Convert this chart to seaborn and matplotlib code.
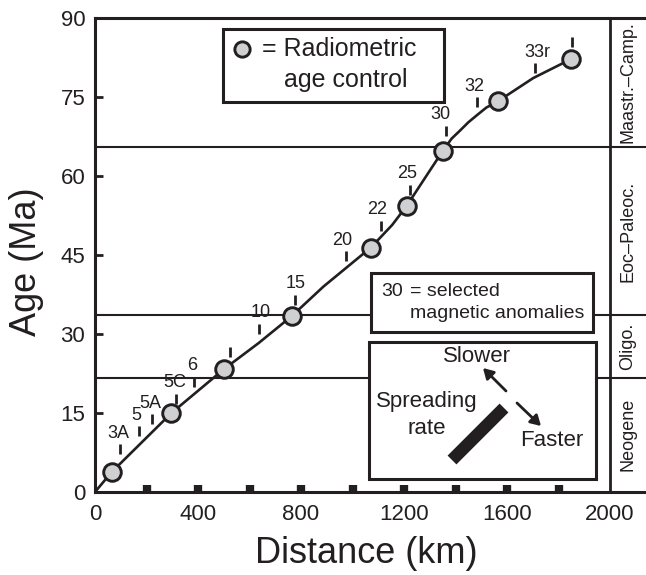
import numpy as np
import pandas as pd
import matplotlib
matplotlib.use("Agg")
import matplotlib.pyplot as plt
import seaborn as sns
from matplotlib.patches import Rectangle, FancyArrowPatch
from matplotlib.ticker import FixedLocator
from matplotlib.lines import Line2D

# ---------------- data ----------------
curve_km = [0, 65, 297, 500, 636, 764, 887, 974, 1071, 1154, 1210, 1351, 1385, 1417, 1450,
            1487, 1520, 1565, 1702, 1849]
curve_ma = [0, 3.8, 15, 23.3, 28.3, 33.4, 39.0, 42.5, 46.4, 50.7, 54.3, 64.8, 67.1, 68.6, 70.2,
            71.7, 73.0, 74.2, 78.6, 82.2]

radio_km = [65, 297, 500, 764, 1071, 1210, 1351, 1565, 1849]
radio_ma = [3.8, 15, 23.3, 33.4, 46.4, 54.3, 64.8, 74.2, 82.2]

anom_names = ["3A", "5", "5A", "5C", "6", "", "10", "15", "20", "22", "25", "30", "32", "33r", ""]
anom_km = [99, 171, 222, 316, 386, 525, 636, 778, 974, 1110, 1222, 1365, 1485, 1707, 1852]
anom_ma = [8.1, 11.5, 13.8, 17.7, 20.9, 26.6, 31.0, 36.5, 44.8, 50.6, 57.4, 68.6, 74.0, 80.5, 85.5]

boundaries_ma = [21.7, 33.6, 65.5]
epoch_names = ["Neogene", "Oligo.", "Eoc\u2013Paleoc.", "Maastr.\u2013Camp."]
epoch_lo = [0, 21.7, 33.6, 65.5]
epoch_hi = [21.7, 33.6, 65.5, 90]

x_ticks = [0, 400, 800, 1200, 1600, 2000]
x_marks = [200, 400, 600, 800, 1000, 1200, 1400, 1600, 1800]
y_ticks = [0, 15, 30, 45, 60, 75, 90]

# label offsets (pixels) for anomaly labels
label_dx = [-2, -3, -2, -2, -2, 0, 2, 0, -4, -4, -3, -6, -3, 3, 0]
label_dy = 16

# ---------------- style ----------------
sns.set_style("ticks")
plt.rcParams['font.family'] = ['Liberation Sans', 'DejaVu Sans']
INK = "#231f20"

W, H = 646, 575
fig = plt.figure(figsize=(W / 100, H / 100), dpi=100)
x0_px, y0_px, ytop_px, xr_px = 95, 492, 18, 646
px_per_km = (610 - 95) / 2000.0
ax = fig.add_axes([x0_px / W, (H - y0_px) / H, (xr_px - x0_px) / W, (y0_px - ytop_px) / H])
ax.set_xlim(0, (xr_px - x0_px) / px_per_km)
ax.set_ylim(0, 90)

def F(px, py):
    return (px / W, 1 - py / H)

# curve
curve_df = pd.DataFrame({"km": curve_km, "ma": curve_ma})
sns.lineplot(data=curve_df, x="km", y="ma", sort=False, color=INK, lw=1.9, ax=ax, zorder=3)

# radiometric points
radio_df = pd.DataFrame({"km": radio_km, "ma": radio_ma})
sns.scatterplot(data=radio_df, x="km", y="ma", s=160, color="#cfd0d2", edgecolor=INK,
                linewidth=2.1, ax=ax, zorder=5, clip_on=False)

# anomaly ticks & labels
am = np.array(anom_ma)
ax.vlines(anom_km, am - 0.95, am + 0.95, color=INK, lw=2.0, zorder=4)
for name, xk, ym, dx in zip(anom_names, anom_km, anom_ma, label_dx):
    if name:
        ax.annotate(name, (xk, ym), xytext=(dx, label_dy), textcoords="offset pixels",
                    ha="center", va="center", fontsize=13, color=INK, zorder=6)

# boundaries and epoch panel
for b in boundaries_ma:
    ax.axhline(b, color=INK, lw=1.5, zorder=1)
ax.axvline(2000, color=INK, lw=2.0, zorder=2)
xe = 2000 + (628 - 610) / px_per_km
for name, lo, hi in zip(epoch_names, epoch_lo, epoch_hi):
    ax.text(xe, (lo + hi) / 2, name, rotation=90, ha="center", va="center",
            fontsize=13, color=INK)

# axes styling
for s in ["left", "bottom", "top"]:
    ax.spines[s].set_linewidth(2.2)
    ax.spines[s].set_color(INK)
ax.spines["right"].set_visible(False)
ax.xaxis.remove_overlapping_locs = False
ax.set_xticks(x_ticks)
ax.set_xticklabels([str(v) for v in x_ticks])
ax.xaxis.set_minor_locator(FixedLocator(x_marks))
ax.tick_params(axis="x", which="major", length=0, pad=9, labelsize=16, colors=INK)
ax.tick_params(axis="x", which="minor", direction="in", length=5, width=6, color=INK)
ax.set_yticks(y_ticks)
ax.set_yticklabels([str(v) for v in y_ticks])
ax.tick_params(axis="y", which="major", direction="in", length=6, width=2, pad=7,
               labelsize=16, colors=INK)
ax.set_xlabel("Distance (km)", fontsize=26, color=INK)
ax.set_ylabel("Age (Ma)", fontsize=26, color=INK)
ax.xaxis.set_label_coords((366 - x0_px) / (xr_px - x0_px), (y0_px - 536) / (y0_px - ytop_px))
ax.yaxis.set_label_coords((44 - x0_px) / (xr_px - x0_px), (y0_px - 262) / (y0_px - ytop_px))

# ---------------- boxes ----------------
def box(l, t, r, b):
    x, y = F(l, b)
    w = (r - l) / W
    h = (b - t) / H
    fig.patches.append(Rectangle((x, y), w, h, transform=fig.transFigure,
                                 facecolor="white", edgecolor=INK, lw=2.2, zorder=10))

box(223, 29, 444, 102)
box(371, 273, 593, 332)
box(369, 342, 596, 479)

def ftxt(px, py, s, **kw):
    fig.text(*F(px, py), s, color=INK, zorder=12, **kw)

fig.add_artist(Line2D([F(242, 49)[0]], [F(242, 49)[1]], marker="o", markersize=11,
                      markerfacecolor="#cfd0d2", markeredgecolor=INK, markeredgewidth=2.1,
                      transform=fig.transFigure, zorder=12))
ftxt(262, 49, "= Radiometric", ha="left", va="center", fontsize=18)
ftxt(284, 80, "age control", ha="left", va="center", fontsize=18)

ftxt(381, 292, "30", ha="left", va="center", fontsize=14)
ftxt(410, 292, "= selected", ha="left", va="center", fontsize=14)
ftxt(410, 313, "magnetic anomalies", ha="left", va="center", fontsize=14)

ftxt(427, 402, "Spreading", ha="center", va="center", fontsize=16)
ftxt(427, 428, "rate", ha="center", va="center", fontsize=16)
ftxt(477, 357, "Slower", ha="center", va="center", fontsize=16)
ftxt(552, 440, "Faster", ha="center", va="center", fontsize=16)

fig.add_artist(Line2D([F(452, 460)[0], F(504, 408)[0]], [F(452, 460)[1], F(504, 408)[1]],
                      color=INK, lw=9, solid_capstyle="butt", transform=fig.transFigure, zorder=12))
for (a, b) in [((506, 391), (483, 368)), ((517, 403), (541, 426))]:
    fig.patches.append(FancyArrowPatch(F(*a), F(*b), transform=fig.transFigure,
                                       arrowstyle="-|>,head_length=6,head_width=3.5",
                                       color=INK, lw=2.0, zorder=12,
                                       shrinkA=0, shrinkB=0))

fig.savefig("out.png", dpi=100)
